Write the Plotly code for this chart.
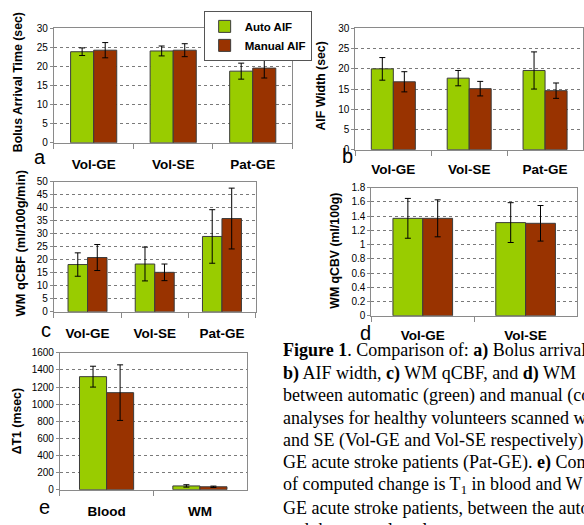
import plotly.graph_objects as go

# ---------------- data ----------------
cats_abc = ["Vol-GE", "Vol-SE", "Pat-GE"]
cats_d = ["Vol-GE", "Vol-SE"]
cats_e = ["Blood", "WM"]

bat_auto = [23.9, 24.1, 18.8]
bat_auto_err = [1.0, 1.3, 2.1]
bat_man = [24.3, 24.3, 19.6]
bat_man_err = [2.0, 1.7, 2.6]

aif_auto = [20.0, 17.7, 19.6]
aif_auto_err = [2.8, 1.9, 4.6]
aif_man = [16.8, 15.1, 14.6]
aif_man_err = [2.5, 1.8, 1.9]

cbf_auto = [18.2, 18.4, 29.0]
cbf_auto_err = [4.5, 6.5, 10.3]
cbf_man = [20.9, 15.2, 35.9]
cbf_man_err = [5.0, 3.2, 11.7]

cbv_auto = [1.37, 1.31]
cbv_auto_err = [0.28, 0.28]
cbv_man = [1.37, 1.30]
cbv_man_err = [0.26, 0.25]

dt1_auto = [1322, 44]
dt1_auto_err = [122, 14]
dt1_man = [1135, 34]
dt1_man_err = [325, 8]

series_names = ["Auto AIF", "Manual AIF"]
y_titles = ["Bolus Arrival Time (sec)", "AIF Width (sec)", "WM qCBF (ml/100g/min)",
            "WM qCBV (ml/100g)", "\u0394T1 (msec)"]
panel_letters = ["a", "b", "c", "d", "e"]

caption_lines = [
    "<b>Figure 1</b>. Comparison of: <b>a)</b> Bolus arrival",
    "<b>b)</b> AIF width, <b>c)</b> WM qCBF, and <b>d)</b> WM",
    "between automatic (green) and manual (co",
    "analyses for healthy volunteers scanned w",
    "and SE (Vol-GE and Vol-SE respectively)",
    "GE acute stroke patients (Pat-GE). <b>e)</b> Com",
    "of computed change is T<sub>1</sub> in blood and W",
    "GE acute stroke patients, between the auto",
    "and the manual analyses.",
]

# ---------------- layout helpers ----------------
W, H = 584, 525
GREEN = "#99cc00"
BROWN = "#993300"
AX = "#8a8a8a"
SANS = "Liberation Sans, Arial, sans-serif"
SERIF = "Liberation Serif, Times New Roman, serif"

panels = [
    dict(cats=cats_abc, a=bat_auto, ae=bat_auto_err, m=bat_man, me=bat_man_err,
         rng=[0, 30], dtick=5, px=(54, 293), py=(23, 140), so=9,
         title_xy=(18, 78), letter_xy=(40, 155)),
    dict(cats=cats_abc, a=aif_auto, ae=aif_auto_err, m=aif_man, me=aif_man_err,
         rng=[0, 30], dtick=5, px=(356, 584), py=(23, 147), so=7,
         title_xy=(322, 82), letter_xy=(348, 154)),
    dict(cats=cats_abc, a=cbf_auto, ae=cbf_auto_err, m=cbf_man, me=cbf_man_err,
         rng=[0, 50], dtick=5, px=(54, 256), py=(180, 313), so=9,
         title_xy=(20, 243), letter_xy=(46, 332)),
    dict(cats=cats_d, a=cbv_auto, ae=cbv_auto_err, m=cbv_man, me=cbv_man_err,
         rng=[0, 1.8], dtick=0.2, px=(372, 578), py=(186, 317), so=7,
         title_xy=(336, 250), letter_xy=(366, 335)),
    dict(cats=cats_e, a=dt1_auto, ae=dt1_auto_err, m=dt1_man, me=dt1_man_err,
         rng=[0, 1600], dtick=200, px=(60, 247), py=(355, 495), so=9,
         title_xy=(17, 425), letter_xy=(45, 513)),
]

fig = go.Figure()
annotations = []
layout = {}

for i, p in enumerate(panels):
    s = "" if i == 0 else str(i + 1)
    for name, vals, errs, col in [(series_names[0], p["a"], p["ae"], GREEN),
                                  (series_names[1], p["m"], p["me"], BROWN)]:
        fig.add_trace(go.Bar(
            x=p["cats"], y=vals, name=name,
            marker=dict(color=col, line=dict(color="#3c3c3c", width=1)),
            error_y=dict(type="data", array=errs, color="black", thickness=1, width=3),
            xaxis="x" + s, yaxis="y" + s, showlegend=(i == 0), legendgroup=name,
        ))
    layout["xaxis" + s] = dict(
        domain=[p["px"][0] / W, p["px"][1] / W], anchor="y" + s,
        type="category", showgrid=False, showline=True, linecolor=AX, linewidth=1,
        mirror=True, ticks="outside", tickson="boundaries", ticklen=5, tickcolor=AX,
        tickfont=dict(family=SANS, size=13.5, color="black", weight="bold"),
        ticklabelstandoff=p["so"], fixedrange=True,
    )
    layout["yaxis" + s] = dict(
        domain=[1 - p["py"][1] / H, 1 - p["py"][0] / H], anchor="x" + s,
        range=p["rng"], dtick=p["dtick"], tick0=0, showgrid=True,
        gridcolor="#7a7a7a", griddash="dot", gridwidth=1, zeroline=False,
        showline=True, linecolor=AX, linewidth=1, mirror=True,
        ticks="outside", ticklen=3, tickcolor=AX,
        tickfont=dict(family=SANS, size=10, color="black"), fixedrange=True,
    )
    annotations.append(dict(
        text="<b>" + y_titles[i] + "</b>", x=p["title_xy"][0] / W, y=1 - p["title_xy"][1] / H,
        xref="paper", yref="paper", showarrow=False, textangle=-90,
        xanchor="center", yanchor="middle",
        font=dict(family=SANS, size=12.3 if i != 2 else 12.8, color="black"),
    ))
    annotations.append(dict(
        text=panel_letters[i], x=p["letter_xy"][0] / W, y=1 - p["letter_xy"][1] / H,
        xref="paper", yref="paper", showarrow=False, xanchor="center", yanchor="middle",
        font=dict(family=SANS, size=20, color="black"),
    ))

for k, line in enumerate(caption_lines):
    annotations.append(dict(
        text=line, x=281 / W, y=1 - (353 + 22.9 * k) / H,
        xref="paper", yref="paper", showarrow=False, xanchor="left", yanchor="middle",
        align="left", font=dict(family=SERIF, size=18, color="black"),
    ))

fig.update_layout(
    width=W, height=H, margin=dict(l=0, r=0, t=0, b=0),
    paper_bgcolor="white", plot_bgcolor="white",
    barmode="group", bargap=0.42, bargroupgap=0,
    showlegend=True,
    legend=dict(x=204 / W, y=1 - 5 / H, xanchor="left", yanchor="top",
                bgcolor="white", bordercolor="#555555", borderwidth=1,
                font=dict(family=SANS, size=11.5, color="black", weight="bold"),
                itemwidth=30, tracegroupgap=0),
    annotations=annotations,
    **layout,
)

fig.write_html(
    "out.html",
    config={"displayModeBar": False},
    post_script="document.body.style.margin='0';document.body.style.padding='0';"
                "document.body.style.overflow='hidden';",
)
